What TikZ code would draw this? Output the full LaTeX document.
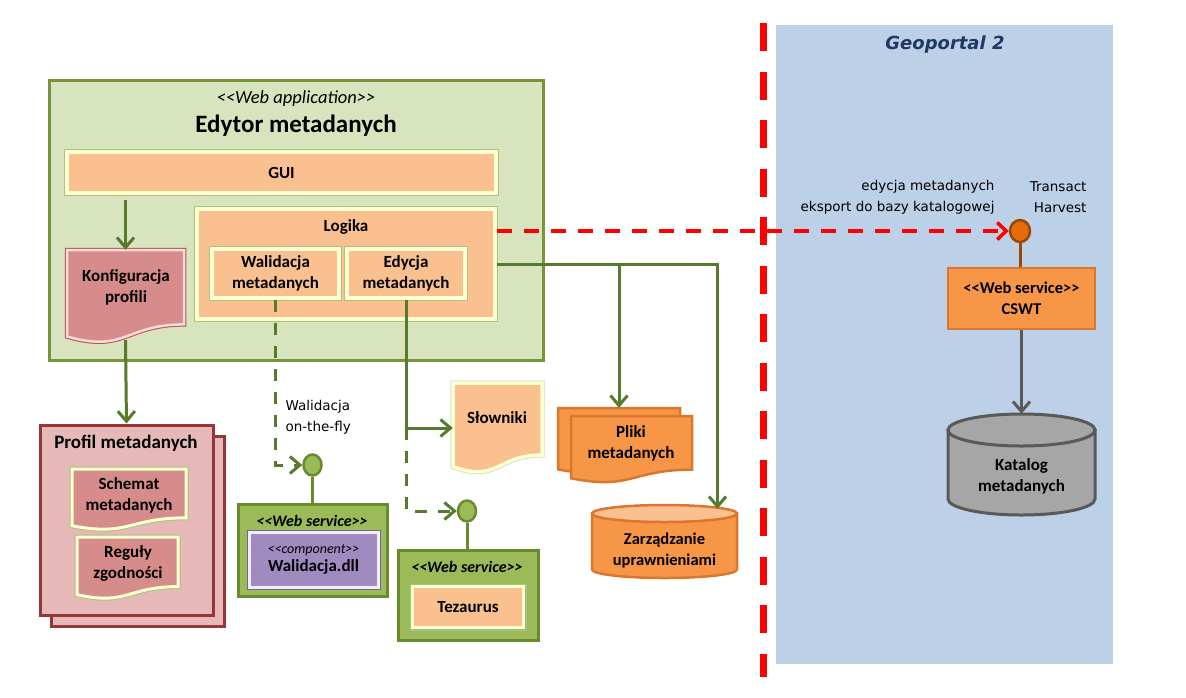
\documentclass[tikz,border=0pt]{standalone}
\usepackage{fontspec}
\setmainfont{Carlito}[Ligatures=TeXOff]
\newfontfamily\notefont{DejaVu Sans}[Ligatures=TeXOff]
\usetikzlibrary{shapes,arrows.meta,positioning,calc,shadows}

\definecolor{panelgreen}{HTML}{D7E4BD}
\definecolor{paneledge}{HTML}{77933C}
\definecolor{lightorange}{HTML}{FAC090}
\definecolor{cream}{HTML}{FFFFD2}
\definecolor{boxedge}{HTML}{A9C47F}
\definecolor{rose}{HTML}{D58C8B}
\definecolor{roseedge}{HTML}{C0504D}
\definecolor{pinkline}{HTML}{F7DCDC}
\definecolor{profilfill}{HTML}{E6B9B8}
\definecolor{profiledge}{HTML}{953735}
\definecolor{wsgreen}{HTML}{9BBB59}
\definecolor{wsedge}{HTML}{6A8A30}
\definecolor{arrowgreen}{HTML}{587A2C}
\definecolor{compfill}{HTML}{A08BC0}
\definecolor{compedge}{HTML}{7D60A0}
\definecolor{lavender}{HTML}{F2EEF8}
\definecolor{strongorange}{HTML}{F79646}
\definecolor{orangeedge}{HTML}{D9772F}
\definecolor{geoblue}{HTML}{BCD0E7}
\definecolor{geotitle}{HTML}{1F3864}
\definecolor{ballorange}{HTML}{E46C0A}
\definecolor{ballbrown}{HTML}{984807}
\definecolor{dbgrey}{HTML}{A6A6A6}
\definecolor{dbedge}{HTML}{595959}

\tikzset{
  lbl/.style={font=\fontsize{17}{21}\selectfont\bfseries, align=center},
  obox/.style={fill=lightorange, draw=cream, line width=3.5pt, preaction={draw=boxedge, line width=6pt},
               drop shadow={shadow xshift=2pt, shadow yshift=-2pt, opacity=0.2}, inner sep=0pt},
  rosedoc/.style={fill=rose, draw=pinkline, line width=2.5pt, preaction={draw=roseedge, line width=4.5pt}},
  greendoc/.style={fill=rose, draw=cream, line width=3pt, preaction={draw=boxedge, line width=5pt}},
  orangedoc/.style={fill=lightorange, draw=cream, line width=3.5pt, preaction={draw=boxedge!60, line width=5pt}},
  plikidoc/.style={fill=strongorange, draw=orangeedge, line width=2.5pt},
  dbstyle/.style={line width=2.5pt},
  wsbox/.style={fill=wsgreen, draw=wsedge, line width=3pt, inner sep=0pt},
  compbox/.style={fill=compfill, draw=lavender, line width=3pt, preaction={draw=compedge, line width=5pt}, inner sep=0pt},
  stereo/.style={font=\fontsize{16}{18}\selectfont\bfseries\itshape},
  note/.style={font=\notefont\fontsize{13.5}{21}\selectfont},
  ball/.style={ellipse, fill=wsgreen, draw=wsedge, line width=2.5pt, minimum width=18pt, minimum height=21pt, inner sep=0pt},
  stick/.style={draw=wsedge, line width=3pt},
  conn/.style={draw=arrowgreen, line width=3pt, -{Straight Barb[length=10pt,width=17pt]}},
  dconn/.style={conn, dash pattern=on 12pt off 11pt},
  redline/.style={draw=red, line width=3.5pt, dash pattern=on 15pt off 12pt, -{Straight Barb[length=9pt,width=17pt]}},
  sepline/.style={draw=red, line width=7pt, dash pattern=on 28pt off 20.5pt},
}

% document shape with a wavy bottom edge, plus a named box for connectors
\newcommand{\docshape}[6]{%
  \draw[#1] (#3,#4) -- (#5,#4) -- (#5,{#4+0.80*(#6-#4)})
    .. controls ({(#3+#5)/2},{#4+0.80*(#6-#4)}) and ({(#3+#5)/2},{#4+1.11*(#6-#4)})
    .. (#3,{#4+0.93*(#6-#4)}) -- cycle;
  \node[inner sep=0pt, minimum width={#5-#3}, minimum height={#6-#4}] (#2) at ({(#3+#5)/2},{(#4+#6)/2}) {};
}

% database cylinder: style, top fill, name, x1, y1, x2, y2, end radius
\newcommand{\dbshape}[8]{%
  \draw[#1] (#4,{#5+#8}) -- (#4,{#7-#8})
    .. controls (#4,{#7-0.448*#8}) and ({(#4+#6)/2-0.276*(#6-#4)},#7) .. ({(#4+#6)/2},#7)
    .. controls ({(#4+#6)/2+0.276*(#6-#4)},#7) and (#6,{#7-0.448*#8}) .. (#6,{#7-#8})
    -- (#6,{#5+#8}) -- cycle;
  \draw[#1, fill=#2] ({(#4+#6)/2},{#5+#8}) ellipse [x radius={(#6-#4)/2}, y radius=#8];
  \node[inner sep=0pt, minimum width={#6-#4}, minimum height={#7-#5}] (#3) at ({(#4+#6)/2},{(#5+#7)/2}) {};
}

\begin{document}
\begin{tikzpicture}[x=1pt,y=-1pt]
    \useasboundingbox (0,0) rectangle (1186,697);

    % Geoportal 2
    \node[fill=geoblue, minimum width=337, minimum height=639, inner sep=0pt] (geo) at (944.5,344.5) {};
    \node[font=\notefont\fontsize{18}{20}\selectfont\bfseries\itshape, text=geotitle] (geotitle) at (945,45) {Geoportal 2};
    \draw[sepline] (763,23) -- (763,677);

    % Edytor metadanych
    \node[fill=panelgreen, draw=paneledge, line width=3pt, minimum width=494, minimum height=280, inner sep=0pt] (edytor) at (296,220) {};
    \node[font=\fontsize{18.5}{20}\selectfont\itshape] (webapp) at (296,99) {<<Web application>>};
    \node[font=\fontsize{25}{28}\selectfont\bfseries] (edytortitle) at (296,126) {Edytor metadanych};
    \node[obox, lbl, minimum width=429, minimum height=41] (gui) at (281.5,172.5) {GUI};
    \node[obox, minimum width=298, minimum height=110] (logika) at (346,264) {};
    \node[lbl] (logikatitle) at (346,227) {Logika};
    \node[obox, lbl, minimum width=127, minimum height=49] (walid) at (275.5,273.5) {Walidacja\\metadanych};
    \node[obox, lbl, minimum width=118, minimum height=49] (edycja) at (406,273.5) {Edycja\\metadanych};
    \docshape{rosedoc}{konf}{67}{250}{184}{343}
    \node[lbl] (konftxt) at (126,287) {Konfiguracja\\profili};

    % Profil metadanych
    \node[fill=profilfill, draw=profiledge, line width=3pt, minimum width=173, minimum height=190, inner sep=0pt,
          copy shadow={shadow xshift=11pt, shadow yshift=-11pt}] (profil) at (126.5,520) {};
    \node[font=\fontsize{19}{22}\selectfont\bfseries] (profiltitle) at (126,443) {Profil metadanych};
    \docshape{greendoc}{schemat}{72}{469}{186}{530}
    \node[lbl] (schemattxt) at (129,495) {Schemat\\metadanych};
    \docshape{greendoc}{reguly}{77}{537}{178}{599}
    \node[lbl] (regulytxt) at (128,563) {Reguły\\zgodności};

    \draw[conn] ([yshift=-5pt]gui.south -| konf.north) -- (konf.north);
    \draw[conn] ([yshift=3pt]konf.south) -- (profil.north);

    % Walidacja service
    \node[ball] (ball1) at (312.5,465) {};
    \node[wsbox, minimum width=149, minimum height=92] (ws1) at (312.5,550) {};
    \node[stereo] (ws1title) at (312,521) {<<Web service>>};
    \node[compbox, minimum width=129, minimum height=55, align=center] (comp) at (313.5,559.5)
        {{\fontsize{14}{17}\selectfont\itshape <<component>>}\\[2pt]{\fontsize{17}{19}\selectfont\bfseries Walidacja.dll}};
    \draw[stick] (ball1.south) -- (ball1.south |- ws1.north);
    \draw[dconn] (walid.south) |- (ball1.west);
    \node[note, align=left, anchor=west] (onthefly) at (282,417) {Walidacja\\on-the-fly};

    % Slowniki and Tezaurus
    \docshape{orangedoc}{slow}{453}{383}{542}{473}
    \node[lbl] (slowtxt) at (497,418) {Słowniki};
    \coordinate (split) at (edycja.south |- slow.west);
    \draw[conn] (edycja.south) |- (slow.west);
    \node[ball] (ball2) at (467,511) {};
    \node[wsbox, minimum width=140, minimum height=90] (ws2) at (468,595) {};
    \node[stereo] (ws2title) at (467,567) {<<Web service>>};
    \node[obox, lbl, minimum width=111, minimum height=41] (tez) at (468,607) {Tezaurus};
    \draw[stick] (ball2.south) -- (ball2.south |- ws2.north);
    \draw[dconn] (split) |- (ball2.west);

    % Pliki and Zarzadzanie
    \docshape{plikidoc}{pliki}{558}{408}{680}{474}
    \docshape{plikidoc}{plikifront}{571}{416}{692}{483}
    \node[lbl] (plikitxt) at (631,443) {Pliki\\metadanych};
    \dbshape{dbstyle, draw=orangeedge, fill=strongorange}{lightorange}{zarz}{592}{505}{737}{578}{8.5}
    \node[lbl, font=\fontsize{16.5}{21}\selectfont\bfseries] (zarztxt) at (664.5,550) {Zarządzanie\\uprawnieniami};
    \draw[conn] (logika.east) -| ([xshift=53pt, yshift=-4pt]zarz.north);
    \draw[conn] (pliki.north |- logika.east) -- (pliki.north);

    % CSWT
    \node[ball, fill=ballorange, draw=ballbrown, minimum width=20, minimum height=22] (ball3) at (1020,231) {};
    \node[fill=strongorange, draw=orangeedge, line width=2.5pt, font=\fontsize{16.5}{21}\selectfont\bfseries, align=center,
          minimum width=147, minimum height=61, inner sep=0pt] (cswt) at (1021.5,298.5) {<<Web service>>\\CSWT};
    \draw[draw=ballbrown, line width=3pt] (ball3.south) -- (ball3.south |- cswt.north);
    \dbshape{dbstyle, line width=3pt, draw=dbedge, fill=dbgrey}{dbgrey}{katalog}{948}{414}{1095}{515}{16}
    \node[lbl] (katalogtxt) at (1021.5,476) {Katalog\\metadanych};
    \draw[draw=dbedge, line width=3pt, -{Straight Barb[length=10pt,width=17pt]}] (cswt.south) -- (katalog.north);

    % export link
    \draw[redline] (logika.east |- ball3.west) -- (ball3.west);
    \node[note, align=right, anchor=east] (exportnote) at (998,197) {edycja metadanych\\eksport do bazy katalogowej};
    \node[note, align=right, anchor=east] (protonote) at (1090,197) {Transact\\Harvest};
\end{tikzpicture}
\end{document}
